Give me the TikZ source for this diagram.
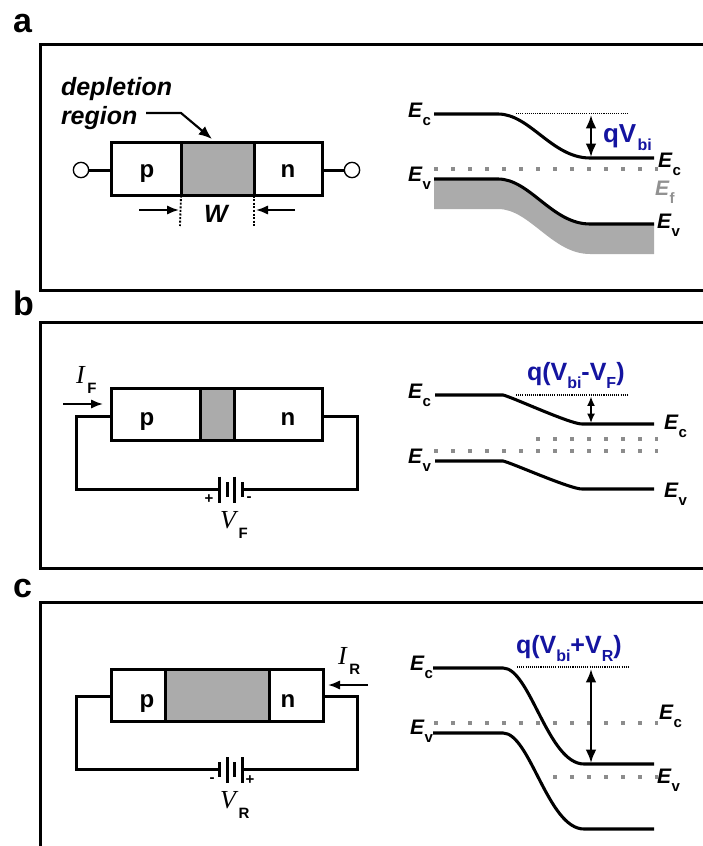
\documentclass[tikz,border=0pt]{standalone}
\usepackage{fontspec}
\setmainfont{Liberation Sans}
\newfontfamily\serifit{Liberation Serif}
\usetikzlibrary{arrows.meta}
\definecolor{regiongrey}{HTML}{ABABAB}
\definecolor{dotgrey}{HTML}{8C8C8C}
\definecolor{labelblue}{HTML}{1414A0}
\newcommand\pxfont[1]{\fontsize{\fpeval{#1*0.75}}{\fpeval{#1*0.9}}\selectfont}
\newcommand\lab[3][black]{\textcolor{#1}{\pxfont{21}\bfseries\itshape #2\hspace{0.5pt}\raisebox{-6.2pt}{\pxfont{15}\upshape #3}}}
\newcommand\cur[2]{{\pxfont{26}\serifit\itshape #1}\hspace{2pt}\raisebox{-7.5pt}{\pxfont{15}\bfseries #2}}
\newcommand\sub[1]{\raisebox{-6.5pt}{\pxfont{16}\bfseries #1}}
\tikzset{
  panel/.style={line width=2.25pt},
  wire/.style={line width=2.25pt},
  pside/.style={draw,line width=2.25pt,fill=white,anchor=north west,inner sep=0,outer sep=0},
  gside/.style={pside,fill=regiongrey},
  term/.style={draw,line width=1pt,fill=white,circle,minimum size=11.5pt,inner sep=0},
  tag/.style={inner sep=0,outer sep=0,anchor=base west},
  letter/.style={inner sep=0,outer sep=0,anchor=base,font=\pxfont{24}\bfseries},
  ptag/.style={tag,font=\pxfont{34}\bfseries},
  bluetag/.style={tag,text=labelblue,font=\pxfont{25}\bfseries},
  band/.style={line width=2.3pt},
  fermi/.style={line width=3pt,dotgrey,dash pattern=on 3pt off 9.75pt},
  ref/.style={line width=1.2pt,dash pattern=on 0.8pt off 0.8pt},
  twoway/.style={line width=1.7pt,{Latex[length=10pt,width=8pt]}-{Latex[length=10pt,width=8pt]}},
  oneway/.style={line width=1.5pt,-{Latex[length=9pt,width=7pt]}},
  plate/.style={line width=2.25pt},
  sign/.style={inner sep=0,font=\pxfont{15}\bfseries},
}
\begin{document}
\begin{tikzpicture}[x=0.75pt,y=-0.75pt]
\useasboundingbox (0,0) rectangle (703,846);
% panel letters and frames
\node[ptag] (la) at (13,32) {a};
\node[ptag] (lb) at (13,315) {b};
\node[ptag] (lc) at (13,597) {c};
\draw[panel] (703,44) -- (40,44) -- (40,290) -- (703,290);
\draw[panel] (703,322) -- (40,322) -- (40,568) -- (703,568);
\draw[panel] (703,602) -- (40,602) -- (40,846);

% ---------- a: junction
\node[pside,minimum width=52.5pt,minimum height=39.75pt] (ap) at (111,142.5) {};
\node[gside,minimum width=54.75pt,minimum height=39.75pt] (ag) at (181,142.5) {};
\node[pside,minimum width=51pt,minimum height=39.75pt] (an) at (254,142.5) {};
\node[letter] (apl) at (147,177) {p};
\node[letter] (anl) at (288,177) {n};
\node[term] (at1) at (81,170) {};
\node[term] (at2) at (352,170) {};
\draw[wire] (at1) -- (ap.west |- at1);
\draw[wire] (an.east |- at2) -- (at2);
\node[tag,font=\pxfont{25}\bfseries\itshape] (dep1) at (61,95) {depletion};
\node[tag,font=\pxfont{25}\bfseries\itshape] (dep2) at (61,124) {region};
\coordinate (depb) at (181,113);
\coordinate (dept) at (212,139);
\draw[line width=1.6pt,-{Latex[length=10pt,width=8pt]}] (146,113) -- (depb) -- (dept);
\coordinate (wl) at (180,226);
\coordinate (wr) at (254,226);
\draw[line width=1.4pt,dash pattern=on 1.5pt off 1.2pt] (ag.south west) -- (wl);
\draw[line width=1.4pt,dash pattern=on 1.5pt off 1.2pt] (ag.south east) -- (wr);
\node[tag,font=\pxfont{25}\bfseries\itshape] (w) at (204,222) {W};
\draw[oneway] (139,210) -- (179,210);
\draw[oneway] (295,210) -- (256,210);

% ---------- a: bands
\fill[regiongrey] (434,179) -- (498,179) .. controls (530,179) and (552,224) .. (590,224) -- (654,224) -- (654,254) -- (590,254) .. controls (552,254) and (530,209) .. (498,209) -- (434,209) -- cycle;
\coordinate (a1) at (434,114);
\coordinate (a2) at (498,114);
\coordinate (a3) at (590,158);
\coordinate (a4) at (654,158);
\coordinate (a5) at (434,179);
\coordinate (a6) at (498,179);
\coordinate (a7) at (590,224);
\coordinate (a8) at (654,224);
\draw[band] (a1) -- (a2) .. controls (530,114) and (552,158) .. (a3) -- (a4);
\draw[band] (a5) -- (a6) .. controls (530,179) and (552,224) .. (a7) -- (a8);
\draw[fermi] (434,169) -- (658,169);
\draw[ref] (516,113.5) -- (627,113.5);
\draw[twoway] (591,115) -- (591,157);
\node[bluetag,font=\pxfont{26}\bfseries] (aq) at (603,142) {qV\hspace{1pt}\sub{bi}};
\node[tag] (aec) at (408,117) {\lab{E}{c}};
\node[tag] (aev) at (408,181) {\lab{E}{v}};
\node[tag] (aecr) at (658,167) {\lab{E}{c}};
\node[tag] (aef) at (655,195) {\lab[regiongrey!85!black]{E}{f}};
\node[tag] (aevr) at (657,228) {\lab{E}{v}};

% ---------- b: circuit
\node[pside,minimum width=66.75pt,minimum height=39.25pt] (bp) at (111,388.5) {};
\node[gside,minimum width=25.5pt,minimum height=39.25pt] (bg) at (200,388.5) {};
\node[pside,minimum width=66pt,minimum height=39.25pt] (bn) at (234,388.5) {};
\node[letter] (bpl) at (147,425) {p};
\node[letter] (bnl) at (288,425) {n};
\coordinate (bw) at (76,416);
\coordinate (be) at (357,416);
\coordinate (bbl) at (219,489);
\coordinate (bbr) at (242,489);
\draw[wire,line join=miter] (bp.west |- bw) -- (bw) |- (bbl);
\draw[wire,line join=miter] (bn.east |- be) -- (be) |- (bbr);
\draw[plate] (219,476.5) -- (219,503);
\draw[plate] (227,482) -- (227,497);
\draw[plate] (234,476.5) -- (234,503);
\draw[plate] (242,482) -- (242,497);
\node[sign] (bplus) at (209,499) {+};
\node[sign] (bminus) at (249,499) {-};
\node[tag] (bv) at (220,528) {\cur{V}{F}};
\node[tag] (bi) at (76,383) {\cur{I}{F}};
\draw[oneway] (63,404) -- (103,404);

% ---------- b: bands
\coordinate (b1) at (435,395);
\coordinate (b2) at (503,395);
\coordinate (b3) at (582,424);
\coordinate (b4) at (654,424);
\coordinate (b5) at (435,461);
\coordinate (b6) at (503,461);
\coordinate (b7) at (582,489);
\coordinate (b8) at (654,489);
\draw[band] (b1) -- (b2) .. controls (512,397) and (570,424) .. (b3) -- (b4);
\draw[band] (b5) -- (b6) .. controls (512,463) and (570,489) .. (b7) -- (b8);
\draw[fermi] (536,439) -- (658,439);
\draw[fermi] (434,451) -- (658,451);
\draw[ref] (516,395) -- (627,395);
\draw[line width=1.3pt,{Latex[length=7pt,width=6pt]}-{Latex[length=7pt,width=6pt]}] (591,396.5) -- (591,423);
\node[bluetag] (bq) at (527,380) {q(V\sub{bi}-V\sub{F})};
\node[tag] (bec) at (408,398) {\lab{E}{c}};
\node[tag] (bev) at (408,463) {\lab{E}{v}};
\node[tag] (becr) at (664,429) {\lab{E}{c}};
\node[tag] (bevr) at (664,497) {\lab{E}{v}};

% ---------- c: circuit
\node[pside,minimum width=40.5pt,minimum height=39pt] (cp) at (111,669) {};
\node[gside,minimum width=78pt,minimum height=39pt] (cg) at (165,669) {};
\node[pside,minimum width=40.5pt,minimum height=39pt] (cn) at (269,669) {};
\node[letter] (cpl) at (147,707) {p};
\node[letter] (cnl) at (288,707) {n};
\coordinate (cw) at (76,696);
\coordinate (ce) at (357,696);
\coordinate (cbl) at (219,769);
\coordinate (cbr) at (242,769);
\draw[wire,line join=miter] (cp.west |- cw) -- (cw) |- (cbl);
\draw[wire,line join=miter] (cn.east |- ce) -- (ce) |- (cbr);
\draw[plate] (219,762) -- (219,777);
\draw[plate] (227,757) -- (227,783);
\draw[plate] (234,762) -- (234,777);
\draw[plate] (242,757) -- (242,783);
\node[sign] (cminus) at (212,780) {-};
\node[sign] (cplus) at (250,780) {+};
\node[tag] (cv) at (220,808) {\cur{V}{R}};
\node[tag] (ci) at (338,664) {\cur{I}{R}};
\draw[oneway] (368,685) -- (328,685);

% ---------- c: bands
\coordinate (c1) at (433,668);
\coordinate (c2) at (503,668);
\coordinate (c3) at (584,764);
\coordinate (c4) at (654,764);
\coordinate (c5) at (433,733);
\coordinate (c6) at (503,733);
\coordinate (c7) at (584,829);
\coordinate (c8) at (654,829);
\draw[band] (c1) -- (c2) .. controls (530,668) and (548,764) .. (c3) -- (c4);
\draw[band] (c5) -- (c6) .. controls (530,733) and (548,829) .. (c7) -- (c8);
\draw[fermi] (434,723) -- (658,723);
\draw[fermi] (553,777) -- (658,777);
\draw[ref] (517,667) -- (628,667);
\draw[twoway] (591,669) -- (591,763);
\node[bluetag] (cq) at (516,653) {q(V\sub{bi}+V\sub{R})};
\node[tag] (cec) at (410,670) {\lab{E}{c}};
\node[tag] (cev) at (410,734) {\lab{E}{v}};
\node[tag] (cecr) at (659,719) {\lab{E}{c}};
\node[tag] (cevr) at (657,783) {\lab{E}{v}};
\end{tikzpicture}
\end{document}
